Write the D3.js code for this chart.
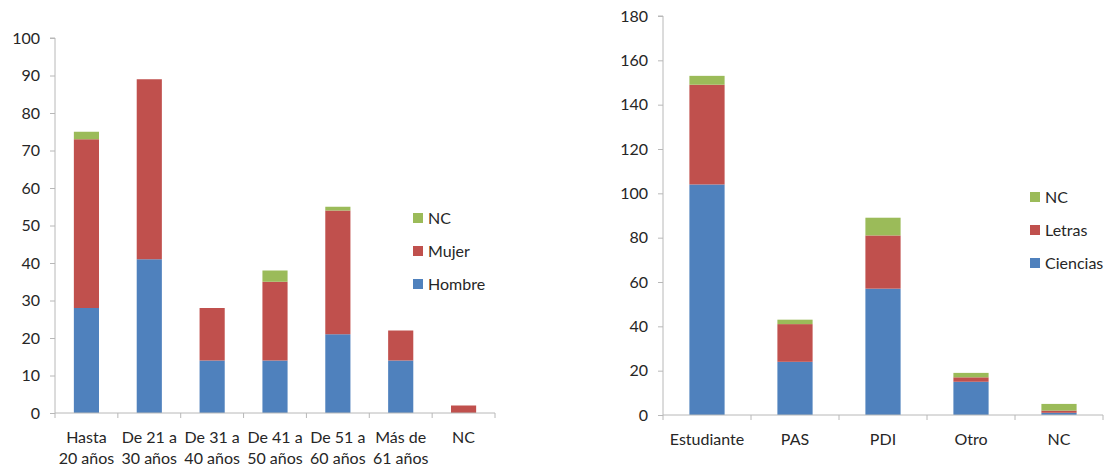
<!DOCTYPE html>
<html>
<head>
<meta charset="utf-8">
<script src="https://cdn.jsdelivr.net/npm/d3@7"></script>
<style>
  body { margin: 0; background: #fff; }
  text { font-family: Lato, "Open Sans", sans-serif; fill: #262626; }
</style>
</head>
<body>
<div id="chart"></div>
<script>
// left chart: age groups
const ageCats = ['Hasta|20 años', 'De 21 a|30 años', 'De 31 a|40 años', 'De 41 a|50 años', 'De 51 a|60 años', 'Más de|61 años', 'NC'];
const ageHombre = [28, 41, 14, 14, 21, 14, 0];
const ageMujer = [45, 48, 14, 21, 33, 8, 2];
const ageNC = [2, 0, 0, 3, 1, 0, 0];
const ageTicks = [0, 10, 20, 30, 40, 50, 60, 70, 80, 90, 100];

// right chart: role
const roleCats = ['Estudiante', 'PAS', 'PDI', 'Otro', 'NC'];
const roleCiencias = [104, 24, 57, 15, 1];
const roleLetras = [45, 17, 24, 2, 1];
const roleNC = [4, 2, 8, 2, 3];
const roleTicks = [0, 20, 40, 60, 80, 100, 120, 140, 160, 180];

const colors = ['#4F81BD', '#C0504D', '#9BBB59'];
const axisColor = '#B8B8B8';

const svg = d3.select('#chart').append('svg')
    .attr('width', 1107)
    .attr('height', 468);

function drawChart(opt) {
    const g = svg.append('g');
    const rows = opt.cats.map((c, i) => {
        const r = { cat: c };
        opt.keys.forEach((k, j) => { r[k] = opt.series[j][i]; });
        return r;
    });
    const stack = d3.stack().keys(opt.keys)(rows);

    const x = d3.scaleBand()
        .domain(opt.cats)
        .range([opt.x0, opt.x1])
        .paddingInner(opt.pad)
        .paddingOuter(opt.pad / 2);
    const y = d3.scaleLinear()
        .domain([0, opt.max])
        .range([opt.y0, opt.y1]);

    stack.forEach((layer, j) => {
        g.selectAll(null)
            .data(layer)
            .enter()
            .append('rect')
            .attr('x', d => x(d.data.cat))
            .attr('width', x.bandwidth())
            .attr('y', d => y(d[1]))
            .attr('height', d => y(d[0]) - y(d[1]))
            .attr('fill', colors[j]);
    });

    // y axis
    const ya = g.append('g')
        .attr('transform', `translate(${opt.x0},0)`)
        .call(d3.axisLeft(y).tickValues(opt.ticks).tickSize(5).tickPadding(10));
    // x axis with ticks between categories
    const step = x.step();
    const bounds = d3.range(opt.cats.length + 1).map(i => opt.x0 + i * step);
    const xa = g.append('g');
    xa.append('line')
        .attr('x1', opt.x0).attr('x2', opt.x1)
        .attr('y1', opt.y0).attr('y2', opt.y0);
    xa.selectAll('line.tk')
        .data(bounds)
        .enter()
        .append('line')
        .attr('class', 'tk')
        .attr('x1', d => d).attr('x2', d => d)
        .attr('y1', opt.y0).attr('y2', opt.y0 + 5);
    xa.selectAll('line').attr('stroke', axisColor);

    const lbl = xa.selectAll('text.lb')
        .data(opt.cats)
        .enter()
        .append('text')
        .attr('class', 'lb')
        .attr('text-anchor', 'middle')
        .attr('font-size', 16)
        .attr('x', d => x(d) + x.bandwidth() / 2)
        .attr('y', opt.y0 + 30);
    lbl.each(function (d) {
        const parts = d.split('|');
        d3.select(this).selectAll('tspan')
            .data(parts)
            .enter()
            .append('tspan')
            .attr('x', x(d) + x.bandwidth() / 2)
            .attr('dy', (p, i) => i === 0 ? 0 : 21)
            .text(p => p);
    });

    ya.select('.domain').attr('stroke', axisColor);
    ya.selectAll('.tick line').attr('stroke', axisColor);
    ya.selectAll('.tick text')
        .attr('font-size', 16)
        .attr('font-family', 'Lato, sans-serif')
        .attr('fill', '#262626');
    ya.select('.domain').attr('d', `M-5,${opt.y1}H0V${opt.y0}`);

    // legend, reverse order
    const lg = g.append('g')
        .attr('transform', `translate(${opt.legX},${opt.legY})`);
    const items = opt.keys.map((k, j) => ({ k, c: colors[j] })).reverse();
    const it = lg.selectAll('g')
        .data(items)
        .enter()
        .append('g')
        .attr('transform', (d, i) => `translate(0,${i * 33})`);
    it.append('rect')
        .attr('x', 0).attr('y', -5)
        .attr('width', 10).attr('height', 10)
        .attr('fill', d => d.c);
    it.append('text')
        .attr('x', 15).attr('y', 6)
        .attr('font-size', 16)
        .text(d => d.k);
}

drawChart({
    cats: ageCats,
    keys: ['Hombre', 'Mujer', 'NC'],
    series: [ageHombre, ageMujer, ageNC],
    ticks: ageTicks,
    max: 100,
    x0: 55, x1: 495,
    y0: 413, y1: 38,
    pad: 0.6,
    legX: 413, legY: 218
});

drawChart({
    cats: roleCats,
    keys: ['Ciencias', 'Letras', 'NC'],
    series: [roleCiencias, roleLetras, roleNC],
    ticks: roleTicks,
    max: 180,
    x0: 663, x1: 1103,
    y0: 415, y1: 16,
    pad: 0.6,
    legX: 1030, legY: 197
});
</script>
</body>
</html>
